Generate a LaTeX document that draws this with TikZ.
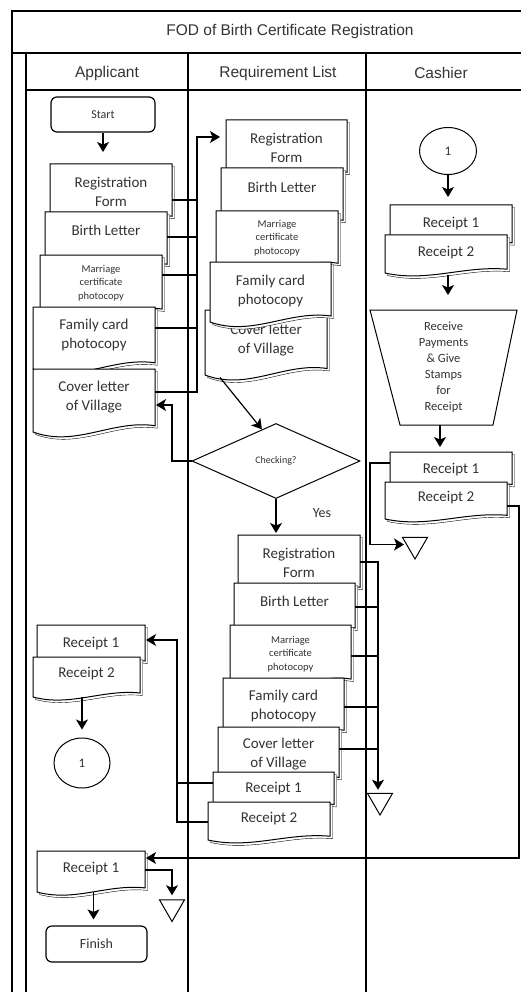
\documentclass[tikz,border=0pt]{standalone}
\usepackage{fontspec}
\setmainfont{Carlito}
\newfontfamily\headfont{Liberation Sans}
\usetikzlibrary{arrows.meta,shapes.geometric,shadows,calc}
\newcommand\docbig{\fontsize{15}{19}\selectfont}
\newcommand\docsmall{\fontsize{10.5}{13.5}\selectfont}
% #1 name, #2 x0, #3 y0, #4 width, #5 height, #6 text y offset, #7 font, #8 text
\newcommand\docu[8]{%
  \path[docshape] (#2,#3) -- ({#2+#4},#3) -- ({#2+#4},{#3+0.9*#5})
    .. controls ({#2+0.65*#4},{#3+0.8*#5}) and ({#2+0.35*#4},{#3+1.25*#5}) .. (#2,{#3+#5}) -- cycle;
  \node[anchorbox, minimum width=#4pt, minimum height={0.9*#5pt}] (#1) at ({#2+#4/2},{#3+0.45*#5}) {};
  \node[doctext, font=#7] (#1-t) at ({#2+#4/2},{#3+#6}) {#8};
}
\begin{document}
\begin{tikzpicture}[x=1pt,y=-1pt,
  frame/.style={line width=1.3pt},
  line/.style={line width=1.2pt},
  arr/.style={line width=1.2pt,-{Stealth[length=10pt,width=12pt,inset=2.5pt]}},
  docshape/.style={draw,line width=1pt,fill=white,copy shadow={shadow xshift=2.5pt,shadow yshift=-2.5pt}},
  anchorbox/.style={draw=none,inner sep=0pt,outer sep=0pt,rectangle},
  doctext/.style={align=center,text=black!80,inner sep=0pt},
  term/.style={draw,rounded corners=6pt,line width=1.2pt,fill=white,text=black!80,inner sep=0pt},
  conn/.style={ellipse,draw,line width=1pt,fill=white,text=black!80,inner sep=0pt,font=\fontsize{13}{15}\selectfont},
  merge/.style={regular polygon,regular polygon sides=3,shape border rotate=180,draw,line width=1pt,minimum size=29pt,inner sep=0pt},
  head/.style={font=\headfont\fontsize{15.5}{18}\selectfont,text=black!80}
]
\useasboundingbox (0,0) rectangle (521,992);

% ---------- frame and lanes ----------
\draw[frame] (12,992) -- (12,11) -- (530,11);
\draw[frame] (12,53) -- (530,53);
\draw[frame] (26,992) -- (26,53);
\draw[frame] (26,90) -- (530,90);
\draw[frame] (188,53) -- (188,992);
\draw[frame] (366,53) -- (366,992);
\node[head] (title) at (290,31) {FOD of Birth Certificate Registration};
\node[head] (laneA) at (107,73) {Applicant};
\node[head] (laneR) at (278,73) {Requirement List};
\node[head] (laneC) at (441,73) {Cashier};

% ---------- Applicant ----------
\node[term, minimum width=104pt, minimum height=35pt, font=\fontsize{12}{14}\selectfont] (start) at (103,114.5) {Start};
\docu{aReg}{50}{164}{122}{58}{28}{\docbig}{Registration\\Form}
\docu{aBir}{45}{212}{122}{58}{18}{\docbig}{Birth Letter}
\docu{aMar}{40}{255}{122}{60}{28}{\docsmall}{Marriage\\certificate\\photocopy}
\docu{aFam}{33}{307}{122}{62}{28}{\docbig}{Family card\\photocopy}
\docu{aCov}{33}{369}{122}{63}{28}{\docbig}{Cover letter\\of Village}

\docu{aR1}{37}{625}{108}{40}{19}{\docbig}{Receipt 1}
\docu{aR2}{33}{657}{107}{40}{17}{\docbig}{Receipt 2}
\node[conn, minimum width=56pt, minimum height=50pt] (a1) at (82,763) {1};
\docu{fR1}{37}{851}{108}{41}{18}{\docbig}{Receipt 1}
\node[merge] (tri3) at (172,907) {};
\node[term, minimum width=101pt, minimum height=36pt, font=\fontsize{14}{16}\selectfont] (finish) at (96.5,944) {Finish};

% ---------- Requirement List ----------
\docu{rReg}{226}{120}{121}{58}{28}{\docbig}{Registration\\Form}
\docu{rBir}{221}{168}{122}{58}{19}{\docbig}{Birth Letter}
\docu{rMar}{216}{211}{122}{58}{27}{\docsmall}{Marriage\\certificate\\photocopy}
\docu{rCov}{205}{310}{122}{65}{30}{\docbig}{Cover letter\\of Village}
\docu{rFam}{210}{262}{121}{60}{29}{\docbig}{Family card\\photocopy}

\node[diamond, draw, line width=1pt, fill=white, minimum width=168pt, minimum height=75pt, inner sep=0pt,
      text=black!80, font=\fontsize{10}{12}\selectfont] (chk) at (276,461) {Checking?};
\node[text=black!80, font=\fontsize{14}{16}\selectfont] (yes) at (322,513) {Yes};

\docu{rReg2}{238}{535}{122}{58}{28}{\docbig}{Registration\\Form}
\docu{rBir2}{234}{583}{121}{50}{18}{\docbig}{Birth Letter}
\docu{rMar2}{230}{625}{121}{60}{29}{\docsmall}{Marriage\\certificate\\photocopy}
\docu{rFam2}{223}{678}{121}{58}{28}{\docbig}{Family card\\photocopy}
\docu{rCov2}{218}{727}{121}{56}{27}{\docbig}{Cover letter\\of Village}
\docu{rR1b}{213}{772}{121}{36}{17}{\docbig}{Receipt 1}
\docu{rR2b}{208}{802}{122}{38}{17}{\docbig}{Receipt 2}
\node[merge] (tri2) at (380,800.5) {};

% ---------- Cashier ----------
\node[conn, minimum width=57pt, minimum height=47pt] (c1) at (448,151) {1};
\docu{cR1}{390}{205}{122}{42}{19}{\docbig}{Receipt 1}
\docu{cR2}{385}{235}{122}{38}{18}{\docbig}{Receipt 2}
\node[anchorbox, minimum width=147pt, minimum height=115pt, align=center, text=black!80,
      font=\fontsize{12.5}{16}\selectfont] (trap) at (443.5,367.5) {Receive\\Payments\\\& Give\\Stamps\\for\\Receipt};
\draw[line width=1pt] (trap.north west) -- (trap.north east) -- ([xshift=-24pt]trap.south east)
      -- ([xshift=30pt]trap.south west) -- cycle;
\docu{cR1b}{390}{452}{122}{36}{18}{\docbig}{Receipt 1}
\docu{cR2b}{385}{482}{122}{37}{16}{\docbig}{Receipt 2}
\node[merge] (tri1) at (415,544.5) {};

% ---------- connectors ----------
\draw[arr, shorten >=12pt] (start.south) -- (start.south |- aReg.north);

\coordinate (j1) at (197,137);
\draw[line] (aReg.east |- 0,200) -- (j1 |- 0,200);
\draw[line] (aBir.east |- 0,237) -- (j1 |- 0,237);
\draw[line] (aMar.east |- 0,275) -- (j1 |- 0,275);
\draw[line] (aFam.east |- 0,328) -- (j1 |- 0,328);
\draw[arr, shorten >=6pt] (aCov.east |- 0,392) -| (j1) -- (rReg.west |- j1);

\draw[arr] ([shift={(15,9)}]rCov.south west) -- (chk.114);
\coordinate (j2) at (172,405);
\draw[arr, shorten >=1pt] (chk.west) -| (j2) -- (aCov.east |- j2);
\draw[arr, shorten >=2pt] (chk.south) -- (chk.south |- rReg2.north);

\coordinate (j3) at (378,562);
\draw[line] (rBir2.east |- 0,607) -- (j3 |- 0,607);
\draw[line] (rMar2.east |- 0,656) -- (j3 |- 0,656);
\draw[line] (rFam2.east |- 0,707) -- (j3 |- 0,707);
\draw[line] (rCov2.east |- 0,749) -- (j3 |- 0,749);
\draw[arr, shorten >=3pt] (rReg2.east |- j3) -- (j3) -- (j3 |- tri2.north);

\draw[arr, shorten >=8pt] (c1.south) -- (c1.south |- cR1.north);
\draw[arr, shorten <=6pt, shorten >=15pt] (c1 |- cR2.south) -- (c1 |- trap.north);
\draw[arr, shorten >=5pt] ([xshift=-3.5pt]trap.south) -- ([xshift=-3.5pt]trap.south |- cR1b.north);

\coordinate (j4) at (370,463);
\draw[arr, shorten >=2pt] (cR1b.west |- j4) -- (j4) |- (tri1.west);

\coordinate (j5) at (519,506);
\coordinate (j6) at (519,858);
\draw[arr, shorten >=1pt] (cR2b.east |- j5) -- (j5) -- (j6) -- (fR1.east |- j6);

\coordinate (j7) at (177,640);
\draw[line] (rR1b.west |- 0,783) -- (j7 |- 0,783);
\draw[arr, shorten >=1pt] (rR2b.west |- 0,822) -| (j7) -- (aR1.east |- j7);

\draw[arr, shorten <=4pt, shorten >=8pt] (a1 |- aR2.south) -- (a1.north);
\draw[arr, shorten >=4pt] (fR1.east |- 0,870) -| (tri3.north);
\draw[arr, shorten <=4pt, shorten >=6pt] ([xshift=-3pt]finish.north |- fR1.south) -- ([xshift=-3pt]finish.north);
\end{tikzpicture}
\end{document}
